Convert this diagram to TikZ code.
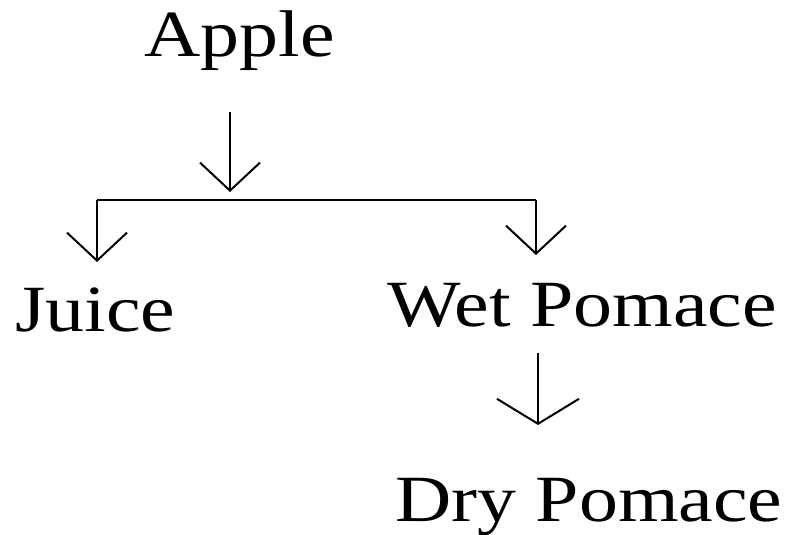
\documentclass[tikz,border=0pt]{standalone}
\usepackage{fontspec}
\setmainfont{Liberation Serif}[FakeStretch=1.18]
\usetikzlibrary{arrows.meta}
\tikzset{
  lbl/.style={anchor=base west, inner sep=0pt, font=\fontsize{33}{36}\selectfont},
  flow/.style={line width=1pt, -{Straight Barb[length=14pt, width=30pt]}},
  flowwide/.style={line width=1pt, -{Straight Barb[length=12.5pt, width=41pt]}},
}
\begin{document}
\begin{tikzpicture}[x=0.5pt, y=-0.5pt]
  \useasboundingbox (0,0) rectangle (789,535);
  % the products
  \node[lbl] (apple) at (144,57) {Apple};
  \node[lbl] (juice) at (15,332) {Juice};
  \node[lbl] (wet) at (387,327) {Wet Pomace};
  \node[lbl] (dry) at (395,522) {Dry Pomace};
  % the split below the apple
  \coordinate (atop) at (230,112);
  \coordinate (atip) at (230,192);
  \coordinate (left) at (97,200);
  \coordinate (right) at (536,200);
  \coordinate (jtip) at (97,262);
  \coordinate (wtip) at (536,255);
  \draw[flow] (atop) -- (atip);
  \draw[line width=1pt] (left) -- (right);
  \draw[flow] (left) -- (jtip);
  \draw[flow] (right) -- (wtip);
  % drying
  \coordinate (wbot) at (538,353);
  \coordinate (dtip) at (538,425);
  \draw[flowwide] (wbot) -- (dtip);
\end{tikzpicture}
\end{document}
